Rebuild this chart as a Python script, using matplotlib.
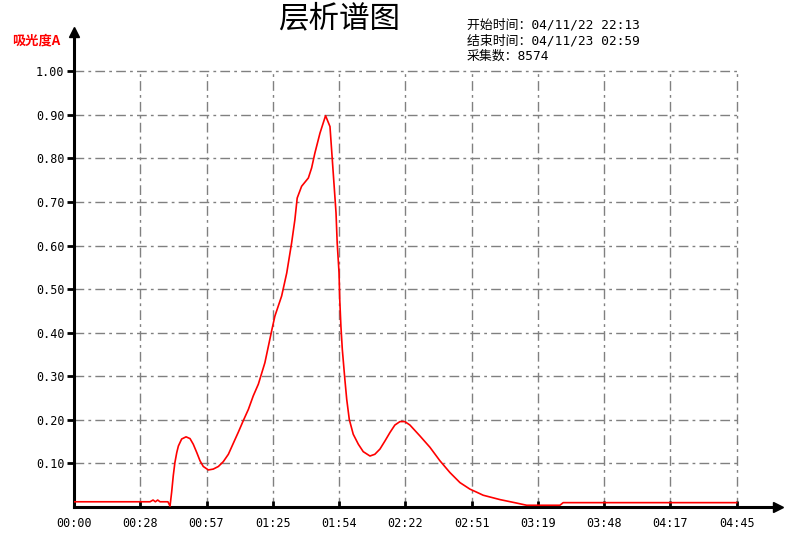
import matplotlib
matplotlib.use("Agg")
import matplotlib.pyplot as plt

plt.rcParams['font.family'] = ['Noto Sans CJK SC', 'DejaVu Sans']
plt.rcParams['lines.scale_dashes'] = False

# data: time in minutes, absorbance
minutes = [0, 32.7, 34.0, 35.0, 36.0, 37.0, 39.1, 40.4, 41.3,
           42.0, 42.7, 43.4, 44.2, 44.9, 46.3, 48.2, 49.9, 51.3, 52.8, 54.2, 55.6, 57.8,
           59.9, 62.1, 64.2, 66.4, 68.5, 70.7, 72.8, 75.0, 77.1, 79.3,
           82.1, 85.0, 86.4, 89.3, 91.5, 93.6, 95.0, 96.0, 97.9, 100.8, 102.2, 103.6,
           105.8, 108.2, 110.1, 111.1, 111.9, 112.7, 113.2, 114.0, 114.3, 114.8, 115.4,
           116.5, 117.3, 118.4, 120.1, 122.3, 124.4, 127.3, 129.4, 131.6, 133.8, 135.9,
           138.0, 140.2, 142.3, 144.5, 148.8, 153.1, 157.4, 161.7, 166.0, 170.3, 173.2,
           176.0, 183.2, 190.4, 194.7, 201.8, 209.0, 210.4, 285.0]
absorb = [0.012, 0.012, 0.016, 0.012, 0.016, 0.012, 0.012, 0.012, 0.002,
          0.034, 0.072, 0.102, 0.125, 0.140, 0.156, 0.161, 0.157, 0.144, 0.125, 0.106, 0.093, 0.085,
          0.087, 0.093, 0.104, 0.121, 0.146, 0.172, 0.198, 0.224, 0.255, 0.282,
          0.331, 0.404, 0.438, 0.484, 0.537, 0.606, 0.659, 0.709, 0.736, 0.755, 0.778, 0.812,
          0.858, 0.898, 0.873, 0.797, 0.736, 0.675, 0.606, 0.537, 0.476, 0.415, 0.362,
          0.293, 0.247, 0.201, 0.167, 0.144, 0.127, 0.117, 0.121, 0.133, 0.152, 0.171,
          0.188, 0.196, 0.196, 0.188, 0.163, 0.137, 0.106, 0.079, 0.056, 0.041, 0.034,
          0.027, 0.017, 0.009, 0.004, 0.004, 0.004, 0.010, 0.010]

xtick_labels = ["00:00", "00:28", "00:57", "01:25", "01:54", "02:22", "02:51", "03:19", "03:48", "04:17", "04:45"]
xtick_pos = [28.5 * i for i in range(len(xtick_labels))]
ytick_vals = [0.1, 0.2, 0.3, 0.4, 0.5, 0.6, 0.7, 0.8, 0.9, 1.0]

title = "层析谱图"
info_lines = ["开始时间：04/11/22 22:13", "结束时间：04/11/23 02:59", "采集数：8574"]
ylabel = "吸光度A"

fig = plt.figure(figsize=(7.87, 5.46), dpi=100)
ax = fig.add_axes([74/787, 1 - 507/546, 704/787, 475/546])
xmax = 302.8
ymax = 1.09
ax.set_xlim(0, xmax)
ax.set_ylim(0, ymax)

# grid
dash = (0, (7, 3, 2, 3))
for y in ytick_vals:
    ax.plot([0, xtick_pos[-1]], [y, y], color='#808080', lw=1.0, linestyle=dash, zorder=1)
for x in xtick_pos[1:]:
    ax.plot([x, x], [0, 1.0], color='#808080', lw=1.0, linestyle=dash, zorder=1)

ax.plot(minutes, absorb, color='red', lw=1.2, zorder=3)

for s in ['top', 'right']:
    ax.spines[s].set_visible(False)
for s in ['left', 'bottom']:
    ax.spines[s].set_linewidth(2.2)
    ax.spines[s].set_color('black')

mono = ['DejaVu Sans Mono']
ax.set_yticks(ytick_vals)
ax.set_yticklabels([f"{v:.2f}" for v in ytick_vals], fontsize=8.5, family=mono)
ax.tick_params(axis='y', direction='out', length=5, width=2, pad=2)
ax.set_xticks(xtick_pos)
ax.set_xticklabels(xtick_labels, fontsize=8.5, family=mono)
ax.tick_params(axis='x', direction='in', length=4, width=2, pad=7)

# arrows
ax.plot(0, 1, marker='^', color='black', markersize=7, transform=ax.transAxes, clip_on=False, zorder=5)
ax.plot(1, 0, marker='>', color='black', markersize=7, transform=ax.transAxes, clip_on=False, zorder=5)

fig.text(339/787, 1 - 19/546, title, fontsize=22, ha='center', va='center')
for i, line in enumerate(info_lines):
    fig.text(467/787, 1 - (25 + 15.5 * i)/546, line, fontsize=9.3, ha='left', va='center',
             family=['DejaVu Sans Mono', 'Noto Sans CJK SC'])
fig.text(12/787, 1 - 40/546, ylabel, fontsize=9.5, color='red', ha='left', va='center',
         fontweight='bold')

fig.savefig("out.png", dpi=100)
